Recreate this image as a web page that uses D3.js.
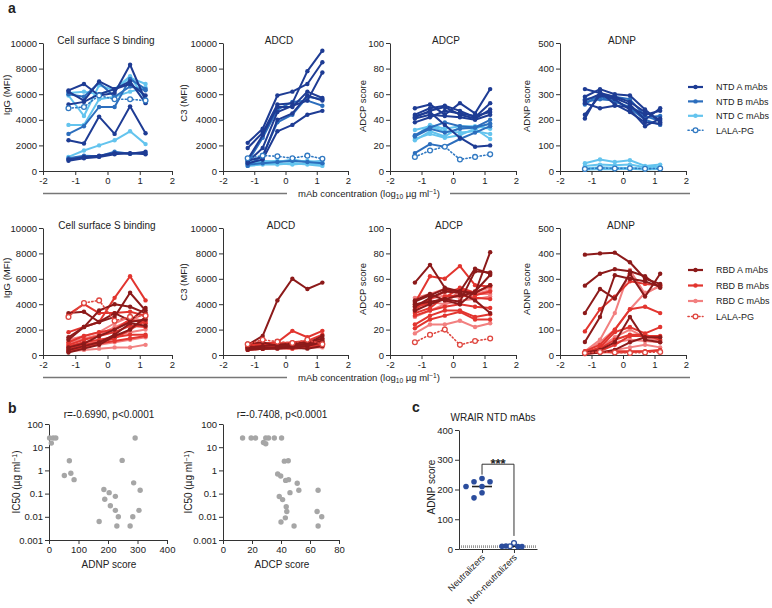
<!DOCTYPE html>
<html>
<head>
<meta charset="utf-8">
<script src="https://cdn.jsdelivr.net/npm/d3@7"></script>
<style>
body { margin: 0; background: #fff; }
text { font-family: "Liberation Sans", Arial, Helvetica, sans-serif; fill: #222; }
</style>
</head>
<body>
<script>
// x values: log10 of the 3-fold mAb dilutions
var logConc = [-1.21, -0.73, -0.26, 0.22, 0.70, 1.18];

var ntdGroups = ['NTD A mAbs', 'NTD B mAbs', 'NTD C mAbs', 'LALA-PG'];
var rbdGroups = ['RBD A mAbs', 'RBD B mAbs', 'RBD C mAbs', 'LALA-PG'];
var ntdColors = ['#1e3c94', '#2c6ebd', '#64c4ee', '#3179c2'];
var rbdColors = ['#8c1a1a', '#e2352f', '#f28080', '#df463f'];

// group index of each line (3 = LALA-PG)
var ntdLineGroup = [0, 0, 0, 0, 0, 0, 1, 1, 1, 2, 2, 2, 2, 3];
var rbdLineGroup = [0, 0, 0, 0, 0, 0, 1, 1, 1, 1, 1, 1, 1, 2, 2, 2, 2, 2, 3];

var ntdBinding = [
  [6300, 6800, 5900, 6100, 8300, 5500],
  [6200, 5500, 7000, 6400, 7000, 5300],
  [5200, 5400, 6000, 6400, 6800, 5900],
  [2400, 2150, 4250, 2900, 5050, 2950],
  [900, 1100, 1200, 1400, 1350, 1500],
  [800, 1000, 1100, 1300, 1400, 1300],
  [2900, 3500, 5000, 5000, 7200, 6400],
  [6000, 5800, 6900, 5800, 6600, 6300],
  [1000, 1200, 1150, 1500, 1350, 1400],
  [5900, 4300, 6700, 6300, 7300, 6800],
  [3600, 3600, 5600, 5800, 6200, 6500],
  [1100, 1600, 2000, 2400, 3100, 2100],
  [6100, 6200, 6000, 6400, 7400, 5600],
  [4900, 5000, 5900, 5600, 5600, 5500]
];
var ntdADCD = [
  [2200, 3300, 5900, 6200, 6800, 8500],
  [1800, 3000, 5200, 5300, 7800, 9400],
  [900, 2800, 5000, 5000, 6200, 5700],
  [700, 1800, 4600, 5100, 5500, 7700],
  [800, 1100, 4000, 4500, 5900, 5500],
  [600, 900, 3100, 3600, 4400, 4700],
  [700, 2600, 4800, 5400, 5500, 5100],
  [400, 1200, 3800, 4400, 5800, 5600],
  [500, 600, 700, 800, 700, 600],
  [600, 700, 800, 700, 800, 600],
  [500, 600, 600, 500, 600, 500],
  [700, 800, 700, 900, 700, 800],
  [400, 500, 500, 600, 500, 400],
  [1000, 1200, 1150, 1000, 1200, 950]
];
var ntdADCP = [
  [49, 52, 44, 53, 45, 64],
  [44, 49, 51, 47, 42, 53],
  [42, 47, 50, 44, 41, 48],
  [38, 42, 47, 45, 43, 46],
  [41, 44, 43, 42, 40, 44],
  [43, 46, 36, 26, 19, 20],
  [28, 34, 38, 35, 34, 40],
  [14, 21, 19, 25, 30, 35],
  [27, 33, 30, 33, 34, 37],
  [24, 31, 27, 34, 33, 25],
  [27, 36, 33, 35, 35, 33],
  [32, 35, 31, 30, 31, 29],
  [25, 29, 26, 28, 33, 37],
  [11, 16, 19, 9, 11, 13]
];
var ntdADNP = [
  [320, 305, 290, 270, 230, 200],
  [290, 320, 300, 295, 240, 190],
  [275, 300, 285, 260, 200, 245],
  [265, 245, 255, 250, 220, 235],
  [220, 295, 280, 240, 175, 205],
  [205, 310, 260, 230, 190, 185],
  [280, 290, 270, 250, 210, 215],
  [270, 280, 275, 245, 200, 180],
  [260, 300, 290, 280, 215, 195],
  [30, 45, 35, 42, 20, 25],
  [20, 25, 22, 25, 15, 18],
  [10, 15, 13, 12, 10, 12],
  [5, 8, 7, 9, 6, 8],
  [8, 12, 10, 11, 9, 10]
];

var rbdBinding = [
  [3300, 3400, 2600, 3300, 2700, 3700],
  [1400, 2200, 3500, 4000, 3800, 3300],
  [1200, 2200, 2600, 3000, 4900, 3500],
  [600, 900, 1500, 2000, 2600, 2800],
  [400, 700, 1000, 1600, 2500, 2300],
  [200, 500, 800, 1500, 2000, 3000],
  [1800, 2200, 2600, 4500, 6200, 4300],
  [1000, 1500, 1800, 2000, 2800, 2500],
  [800, 1200, 1500, 1800, 2300, 2200],
  [700, 1000, 1200, 1400, 1600, 1600],
  [500, 800, 1000, 1300, 2000, 2700],
  [300, 600, 900, 1100, 1300, 1500],
  [3200, 4000, 3300, 3300, 3400, 3100],
  [900, 1300, 1600, 2200, 2700, 3300],
  [600, 800, 1100, 1500, 1800, 2000],
  [400, 600, 800, 1000, 1200, 1400],
  [300, 400, 500, 600, 600, 800],
  [1200, 1500, 1800, 2500, 3000, 2600],
  [3000, 4100, 4300, 2700, 3000, 3100]
];
var rbdADCD = [
  [800, 1500, 4300, 6000, 5200, 5700],
  [700, 500, 600, 700, 900, 1500],
  [600, 700, 800, 900, 1000, 1300],
  [500, 600, 600, 600, 700, 1000],
  [900, 1000, 700, 800, 800, 1100],
  [400, 500, 500, 600, 500, 700],
  [800, 900, 1000, 1900, 1400, 1900],
  [700, 800, 700, 900, 1000, 1200],
  [600, 700, 800, 800, 900, 1000],
  [500, 600, 600, 700, 700, 800],
  [700, 600, 700, 600, 800, 900],
  [400, 500, 600, 500, 600, 700],
  [600, 800, 900, 1000, 1100, 1600],
  [500, 600, 600, 700, 700, 800],
  [600, 700, 700, 800, 800, 900],
  [400, 500, 500, 500, 600, 600],
  [700, 600, 800, 700, 900, 1000],
  [500, 500, 600, 600, 700, 700],
  [850, 1200, 1050, 950, 1200, 850]
];
var rbdADCP = [
  [57, 71, 53, 50, 49, 81],
  [42, 47, 52, 50, 68, 64],
  [40, 42, 44, 42, 66, 65],
  [38, 45, 50, 49, 43, 33],
  [35, 40, 44, 47, 49, 55],
  [43, 48, 43, 40, 50, 63],
  [41, 62, 60, 70, 55, 54],
  [36, 44, 50, 52, 47, 50],
  [33, 37, 46, 47, 45, 44],
  [31, 35, 38, 40, 38, 37],
  [24, 31, 35, 35, 30, 32],
  [21, 28, 31, 34, 28, 28],
  [38, 41, 45, 53, 49, 55],
  [17, 24, 24, 27, 22, 25],
  [34, 42, 40, 51, 48, 51],
  [39, 44, 47, 45, 50, 53],
  [45, 48, 52, 50, 48, 48],
  [30, 35, 40, 43, 44, 46],
  [10, 16, 20, 8, 11, 13]
];
var rbdADNP = [
  [395, 400, 403, 365, 300, 280],
  [273, 320, 338, 330, 310, 265],
  [165, 260, 222, 320, 230, 320],
  [51, 150, 314, 300, 290, 268],
  [10, 20, 50, 150, 60, 50],
  [5, 10, 20, 50, 70, 70],
  [93, 180, 230, 290, 280, 275],
  [15, 40, 100, 180, 190, 165],
  [10, 30, 90, 110, 85, 110],
  [10, 25, 60, 80, 80, 60],
  [5, 15, 40, 75, 75, 75],
  [5, 10, 15, 15, 15, 20],
  [8, 12, 10, 12, 14, 18],
  [15, 60, 165, 335, 240, 275],
  [10, 50, 100, 180, 245, 270],
  [5, 30, 70, 100, 70, 55],
  [8, 20, 50, 60, 55, 50],
  [3, 10, 20, 30, 40, 30],
  [8, 12, 10, 8, 10, 12]
];

// panel b
var bAdnpScore = [2, 14, 23, 8, 292, 69, 248, 74, 52, 85, 287, 186, 309, 204, 225, 189, 208, 225, 305, 235, 284, 170, 230, 275];
var bAdnpIC50 = [25, 25, 25, 15, 25, 2.6, 2.7, 0.75, 0.6, 0.4, 0.29, 0.15, 0.14, 0.11, 0.076, 0.057, 0.03, 0.019, 0.019, 0.01, 0.01, 0.0063, 0.004, 0.004];
var bAdcpScore = [13.5, 19.4, 22.4, 27.9, 29.5, 29.5, 31.4, 35.4, 40.4, 42.3, 45, 37.7, 39.8, 43.2, 45.2, 51.2, 52.3, 65.6, 46.2, 38.8, 41.1, 43.6, 44, 64.9, 43, 68.1, 40, 49, 65.6];
var bAdcpIC50 = [25, 25, 25, 16, 14, 25, 25, 25, 25, 2.5, 2.6, 0.7, 0.57, 0.37, 0.4, 0.28, 0.14, 0.14, 0.11, 0.075, 0.055, 0.027, 0.017, 0.017, 0.009, 0.01, 0.006, 0.004, 0.004];
var icTicks = [0.001, 0.01, 0.1, 1, 10, 100];

// panel c
var cCategories = ['Neutralizers', 'Non-neutralizers'];
var cNeutralizers = [237, 226, 226, 210, 210, 189, 172];
var cNonNeutralizers = [20, 9, 8, 10, 8, 9];
var cNonNeutralizerOpen = [true, true, false, false, false, false];
var cLimit = 8;

var FONT = '"Liberation Sans", Arial, Helvetica, sans-serif';
var plain = function(d) { return String(d); };

var svg = d3.select('body').append('svg')
    .attr('width', 772)
    .attr('height', 608);

function styleAxis(g) {
  g.attr('font-family', FONT).attr('font-size', 9.5);
  g.select('.domain').attr('stroke', '#333');
  g.selectAll('.tick line').attr('stroke', '#333');
  g.selectAll('.tick text').attr('fill', '#222');
}

// text with sub/superscript parts: [text, shift(px)]
function rich(t, parts) {
  var prev = 0;
  parts.forEach(function(p) {
    var s = t.append('tspan').attr('dy', (p[1] - prev) + 'px').text(p[0]);
    if (p[1] !== 0) s.attr('font-size', '70%');
    prev = p[1];
  });
}

function yLabel(x, y, parts, size) {
  var t = svg.append('text')
    .attr('transform', 'translate(' + x + ',' + y + ') rotate(-90)')
    .attr('text-anchor', 'middle')
    .attr('dy', '0.35em')
    .attr('font-size', size || 9.5);
  if (typeof parts === 'string') t.text(parts); else rich(t, parts);
}

function linePanel(p) {
  var x = d3.scaleLinear().domain([-2, 2]).range([p.x0, p.x1]);
  var y = d3.scaleLinear().domain([0, p.yMax]).range([p.yb, p.yt]);

  svg.append('g')
    .attr('transform', 'translate(0,' + p.yb + ')')
    .call(d3.axisBottom(x).tickValues([-2, -1, 0, 1, 2]).tickFormat(plain)
      .tickSize(4).tickSizeOuter(0).tickPadding(2))
    .call(styleAxis);
  svg.append('g')
    .attr('transform', 'translate(' + p.x0 + ',0)')
    .call(d3.axisLeft(y).tickValues(d3.range(0, p.yMax + 1, p.yMax / 5)).tickFormat(plain)
      .tickSize(4).tickSizeOuter(0).tickPadding(2))
    .call(styleAxis);

  svg.append('text')
    .attr('x', p.titleX).attr('y', p.yt + 1)
    .attr('text-anchor', 'middle').attr('font-size', 10)
    .text(p.title);
  yLabel(p.labelX, p.labelY, p.yTitle);

  var line = d3.line()
    .x(function(v, i) { return x(logConc[i]); })
    .y(function(v) { return y(v); });

  var idx = d3.range(p.series.length);
  idx.sort(function(a, b) {
    var ra = p.group[a] === 3 ? 10 : -p.group[a];
    var rb = p.group[b] === 3 ? 10 : -p.group[b];
    return ra - rb;
  });

  idx.forEach(function(k) {
    var gi = p.group[k], col = p.colors[gi], lala = gi === 3;
    var g = svg.append('g');
    g.append('path')
      .attr('d', line(p.series[k]))
      .attr('fill', 'none')
      .attr('stroke', col)
      .attr('stroke-width', lala ? 1.6 : 2)
      .attr('stroke-dasharray', lala ? '1.2,2.4' : null)
      .attr('stroke-linecap', lala ? 'round' : 'butt')
      .attr('stroke-linejoin', 'round');
    g.selectAll('circle')
      .data(p.series[k])
      .join('circle')
      .attr('cx', function(v, i) { return x(logConc[i]); })
      .attr('cy', function(v) { return y(v); })
      .attr('r', lala ? 2.4 : 2.2)
      .attr('fill', lala ? '#fff' : col)
      .attr('stroke', lala ? col : 'none')
      .attr('stroke-width', 1.3);
  });
}

function legend(names, colors, y0, dy, textX) {
  names.forEach(function(n, i) {
    var yy = y0 + i * dy, lala = i === 3;
    svg.append('line')
      .attr('x1', 688).attr('x2', 703).attr('y1', yy).attr('y2', yy)
      .attr('stroke', colors[i]).attr('stroke-width', lala ? 1.6 : 2.2)
      .attr('stroke-dasharray', lala ? '1.2,2.4' : null)
      .attr('stroke-linecap', lala ? 'round' : 'butt');
    svg.append('circle')
      .attr('cx', 695.5).attr('cy', yy).attr('r', lala ? 2.4 : 2.2)
      .attr('fill', lala ? '#fff' : colors[i])
      .attr('stroke', lala ? colors[i] : 'none').attr('stroke-width', 1.3);
    svg.append('text')
      .attr('x', textX).attr('y', yy + 3.3)
      .attr('font-size', 9).text(n);
  });
}

function concLabel(yLine) {
  svg.append('line').attr('x1', 43).attr('x2', 287).attr('y1', yLine).attr('y2', yLine)
    .attr('stroke', '#777').attr('stroke-width', 1.4);
  svg.append('line').attr('x1', 450).attr('x2', 690).attr('y1', yLine).attr('y2', yLine)
    .attr('stroke', '#777').attr('stroke-width', 1.4);
  var t = svg.append('text').attr('x', 369).attr('y', yLine + 3.5)
    .attr('text-anchor', 'middle').attr('font-size', 9.5);
  rich(t, [['mAb concentration (log', 0], ['10', 2], [' µg ml', 0], ['−1', -3.5], [')', 0]]);
}

var xr = [[43, 172], [223, 348], [390, 516], [560, 686]];
var yTitles = ['IgG (MFI)', 'C3 (MFI)', 'ADCP score', 'ADNP score'];
var titles = ['Cell surface S binding', 'ADCD', 'ADCP', 'ADNP'];
var yMaxes = [10000, 10000, 100, 500];
var labelXs = [6.5, 184, 363, 527];
var ntdData = [ntdBinding, ntdADCD, ntdADCP, ntdADNP];
var rbdData = [rbdBinding, rbdADCD, rbdADCP, rbdADNP];
var topTitleX = [106, 279, 446, 622], botTitleX = [107, 281, 449, 621];
var topLabelY = [95, 103, 106, 106], botLabelY = [278, 282, 289, 289];

for (var i = 0; i < 4; i++) {
  linePanel({ x0: xr[i][0], x1: xr[i][1], yb: 171, yt: 43, yMax: yMaxes[i],
    title: titles[i], titleX: topTitleX[i], yTitle: yTitles[i], labelX: labelXs[i], labelY: topLabelY[i],
    series: ntdData[i], group: ntdLineGroup, colors: ntdColors });
  linePanel({ x0: xr[i][0], x1: xr[i][1], yb: 355, yt: 228, yMax: yMaxes[i],
    title: titles[i], titleX: botTitleX[i], yTitle: yTitles[i], labelX: labelXs[i], labelY: botLabelY[i],
    series: rbdData[i], group: rbdLineGroup, colors: rbdColors });
}
legend(ntdGroups, ntdColors, 87, 14.4, 716);
legend(rbdGroups, rbdColors, 270, 15.5, 716);
concLabel(193.5);
concLabel(377.5);

// panel b
function scatterPanel(p) {
  var x = d3.scaleLinear().domain(p.xDomain).range([p.x0, p.x1]);
  var y = d3.scaleLog().domain([0.001, 100]).range([540, 424]);
  svg.append('g').attr('transform', 'translate(0,540)')
    .call(d3.axisBottom(x).tickValues(p.xTicks).tickFormat(plain)
      .tickSize(4).tickSizeOuter(0).tickPadding(2))
    .call(styleAxis);
  svg.append('g').attr('transform', 'translate(' + p.x0 + ',0)')
    .call(d3.axisLeft(y).tickValues(icTicks).tickFormat(plain)
      .tickSize(4).tickSizeOuter(0).tickPadding(2))
    .call(styleAxis);
  svg.append('g').selectAll('circle')
    .data(p.xs)
    .join('circle')
    .attr('cx', function(d) { return x(d); })
    .attr('cy', function(d, i) { return y(p.ys[i]); })
    .attr('r', 2.7)
    .attr('fill', '#a6a6a6');
  var mid = (p.x0 + p.x1) / 2;
  svg.append('text').attr('x', mid + 1).attr('y', 418)
    .attr('text-anchor', 'middle').attr('font-size', 10).text(p.title);
  svg.append('text').attr('x', mid + 1).attr('y', 568)
    .attr('text-anchor', 'middle').attr('font-size', 10).text(p.xTitle);
  yLabel(p.labelX, 482, [['IC50 (µg ml', 0], ['−1', -3.5], [')', 0]], 10);
}
scatterPanel({ x0: 49, x1: 167, xDomain: [0, 400], xTicks: [0, 100, 200, 300, 400],
  xs: bAdnpScore, ys: bAdnpIC50, title: 'r=-0.6990, p<0.0001', xTitle: 'ADNP score', labelX: 20 });
scatterPanel({ x0: 223, x1: 339, xDomain: [0, 80], xTicks: [0, 20, 40, 60, 80],
  xs: bAdcpScore, ys: bAdcpIC50, title: 'r=-0.7408, p<0.0001', xTitle: 'ADCP score', labelX: 192 });

// panel c
var cx = d3.scalePoint().domain(cCategories).range([459, 537]).padding(0.72);
var cy = d3.scaleLinear().domain([0, 400]).range([549, 430]);
var cBlue = '#2b4d9d';

svg.append('line')
  .attr('x1', 459).attr('x2', 537).attr('y1', cy(cLimit)).attr('y2', cy(cLimit))
  .attr('stroke', '#9a9a9a').attr('stroke-width', 2.6).attr('stroke-dasharray', '1,1');

var cxAxis = svg.append('g').attr('transform', 'translate(0,549)')
  .call(d3.axisBottom(cx).tickSize(4).tickSizeOuter(0))
  .call(styleAxis);
cxAxis.selectAll('.tick text')
  .attr('y', 0).attr('dy', 0)
  .attr('font-size', 9)
  .attr('transform', 'translate(3,9) rotate(-45)')
  .attr('text-anchor', 'end');
svg.append('g').attr('transform', 'translate(459,0)')
  .call(d3.axisLeft(cy).tickValues([0, 100, 200, 300, 400]).tickFormat(plain)
    .tickSize(4).tickSizeOuter(0).tickPadding(2))
  .call(styleAxis);

// simple beeswarm: step between columns, minimum centre distance
function swarm(values, center, step, minDist) {
  var placed = [];
  return values.map(function(v) {
    var py = cy(v);
    var offs = [0];
    for (var k = 1; k < 8; k++) { offs.push(-k * step); offs.push(k * step); }
    for (var j = 0; j < offs.length; j++) {
      var px = center + offs[j];
      var ok = placed.every(function(q) {
        return Math.hypot(q[0] - px, q[1] - py) >= minDist;
      });
      if (ok) { placed.push([px, py]); return [px, py]; }
    }
    return [center, py];
  });
}

var cR = 2.8;
var pN = swarm(cNeutralizers, cx(cCategories[0]), 8, 6.2);
var pNN = swarm(cNonNeutralizers, cx(cCategories[1]), 4, 3.8);

[[cNeutralizers, cCategories[0]], [cNonNeutralizers, cCategories[1]]].forEach(function(s) {
  var m = d3.median(s[0]);
  svg.append('line')
    .attr('x1', cx(s[1]) - 10).attr('x2', cx(s[1]) + 10)
    .attr('y1', cy(m)).attr('y2', cy(m))
    .attr('stroke', '#222').attr('stroke-width', 1.6);
});

svg.append('g').selectAll('circle').data(pN).join('circle')
  .attr('cx', function(d) { return d[0]; }).attr('cy', function(d) { return d[1]; })
  .attr('r', cR).attr('fill', cBlue);
svg.append('g').selectAll('circle').data(pNN).join('circle')
  .attr('cx', function(d) { return d[0]; }).attr('cy', function(d) { return d[1]; })
  .attr('r', function(d, i) { return cNonNeutralizerOpen[i] ? 2.4 : cR; })
  .attr('fill', function(d, i) { return cNonNeutralizerOpen[i] ? '#fff' : cBlue; })
  .attr('stroke', cBlue).attr('stroke-width', function(d, i) { return cNonNeutralizerOpen[i] ? 1.3 : 0; });

// significance bracket
var bx1 = cx(cCategories[0]), bx2 = cx(cCategories[1]);
svg.append('path')
  .attr('d', 'M' + bx1 + ',' + cy(250) + 'V' + cy(285) + 'H' + bx2 + 'V' + cy(44))
  .attr('fill', 'none').attr('stroke', '#333').attr('stroke-width', 1);
svg.append('text').attr('x', (bx1 + bx2) / 2).attr('y', cy(285) + 4)
  .attr('text-anchor', 'middle').attr('font-size', 13).attr('font-weight', 'bold')
  .text('***');

svg.append('text').attr('x', 493).attr('y', 421)
  .attr('text-anchor', 'middle').attr('font-size', 10).text('WRAIR NTD mAbs');
yLabel(431, 487, 'ADNP score', 10);

// panel letters
[['a', 8, 13], ['b', 8, 413], ['c', 412, 412]].forEach(function(l) {
  svg.append('text').attr('x', l[1]).attr('y', l[2])
    .attr('font-size', 14).attr('font-weight', 'bold').text(l[0]);
});
</script>
</body>
</html>
